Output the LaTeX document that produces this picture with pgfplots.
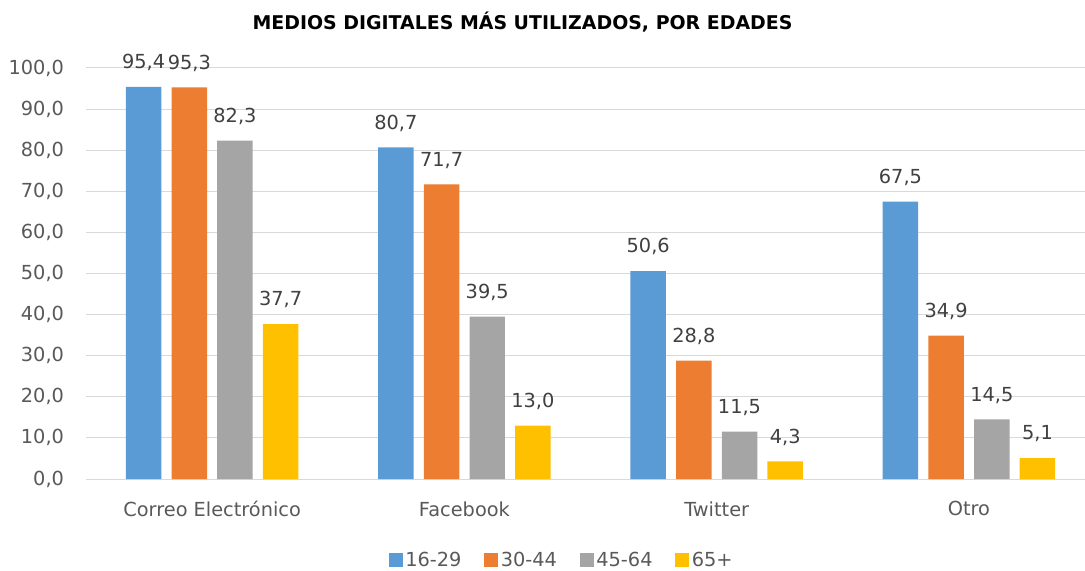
\documentclass[border=0pt]{standalone}
\usepackage{fontspec}
\setmainfont{DejaVu Sans}
\usepackage{pgfplots}
\pgfplotsset{compat=1.18}
\definecolor{cA}{HTML}{5B9BD5}
\definecolor{cB}{HTML}{ED7D31}
\definecolor{cC}{HTML}{A5A5A5}
\definecolor{cD}{HTML}{FFC000}
\definecolor{gridc}{HTML}{D9D9D9}
\definecolor{tickc}{HTML}{595959}
\definecolor{labc}{HTML}{404040}
\newcommand{\lf}{\fontsize{14.5}{17}\selectfont}
\begin{document}
\begin{tikzpicture}
\path[use as bounding box] (0,0) rectangle (813.75pt,428.25pt);
\node[font=\bfseries\fontsize{14.2}{16}\selectfont, text=black] at (391.9pt,411.75pt) {MEDIOS DIGITALES MÁS UTILIZADOS, POR EDADES};
\begin{axis}[
  at={(64.5pt,69pt)}, anchor=south west,
  scale only axis, width=749.25pt, height=308.25pt,
  xmin=-0.5, xmax=3.46, ymin=0, ymax=100,
  clip=false,
  axis line style={draw=none},
  tick style={draw=none},
  ymajorgrids, grid style={draw=gridc, line width=0.75pt},
  ytick={0,10,...,100},
  xtick={0,1,2,3},
  xticklabels={Correo Electrónico, Facebook, Twitter, Otro},
  ticklabel style={font=\lf, text=tickc},
  yticklabel style={xshift=-13pt},
  xticklabel style={yshift=-9pt},
  ybar=7.65pt, bar width=26.6pt,
  nodes near coords,
  every node near coord/.append style={font=\lf, text=labc, yshift=8.5pt},
  /pgf/number format/assume math mode=true,
  /pgf/number format/fixed,
  /pgf/number format/fixed zerofill,
  /pgf/number format/precision=1,
  /pgf/number format/use comma,
  legend columns=-1,
  legend style={draw=none, fill=none, font=\lf, text=tickc,
    at={(axis description cs:0.4765,0)}, anchor=center, yshift=-61pt,
    /tikz/every even column/.append style={column sep=15pt},
    /tikz/every odd column/.append style={column sep=0pt}},
  legend image code/.code={\fill[#1] (0pt,-5.25pt) rectangle (10.5pt,5.25pt);},
]
\addplot[fill=cA, draw=none] coordinates {(0,95.4) (1,80.7) (2,50.6) (3,67.5)};
\addplot[fill=cB, draw=none] coordinates {(0,95.3) (1,71.7) (2,28.8) (3,34.9)};
\addplot[fill=cC, draw=none] coordinates {(0,82.3) (1,39.5) (2,11.5) (3,14.5)};
\addplot[fill=cD, draw=none] coordinates {(0,37.7) (1,13.0) (2,4.3) (3,5.1)};
\legend{16-29,30-44,45-64,65+}
\end{axis}
\end{tikzpicture}
\end{document}
